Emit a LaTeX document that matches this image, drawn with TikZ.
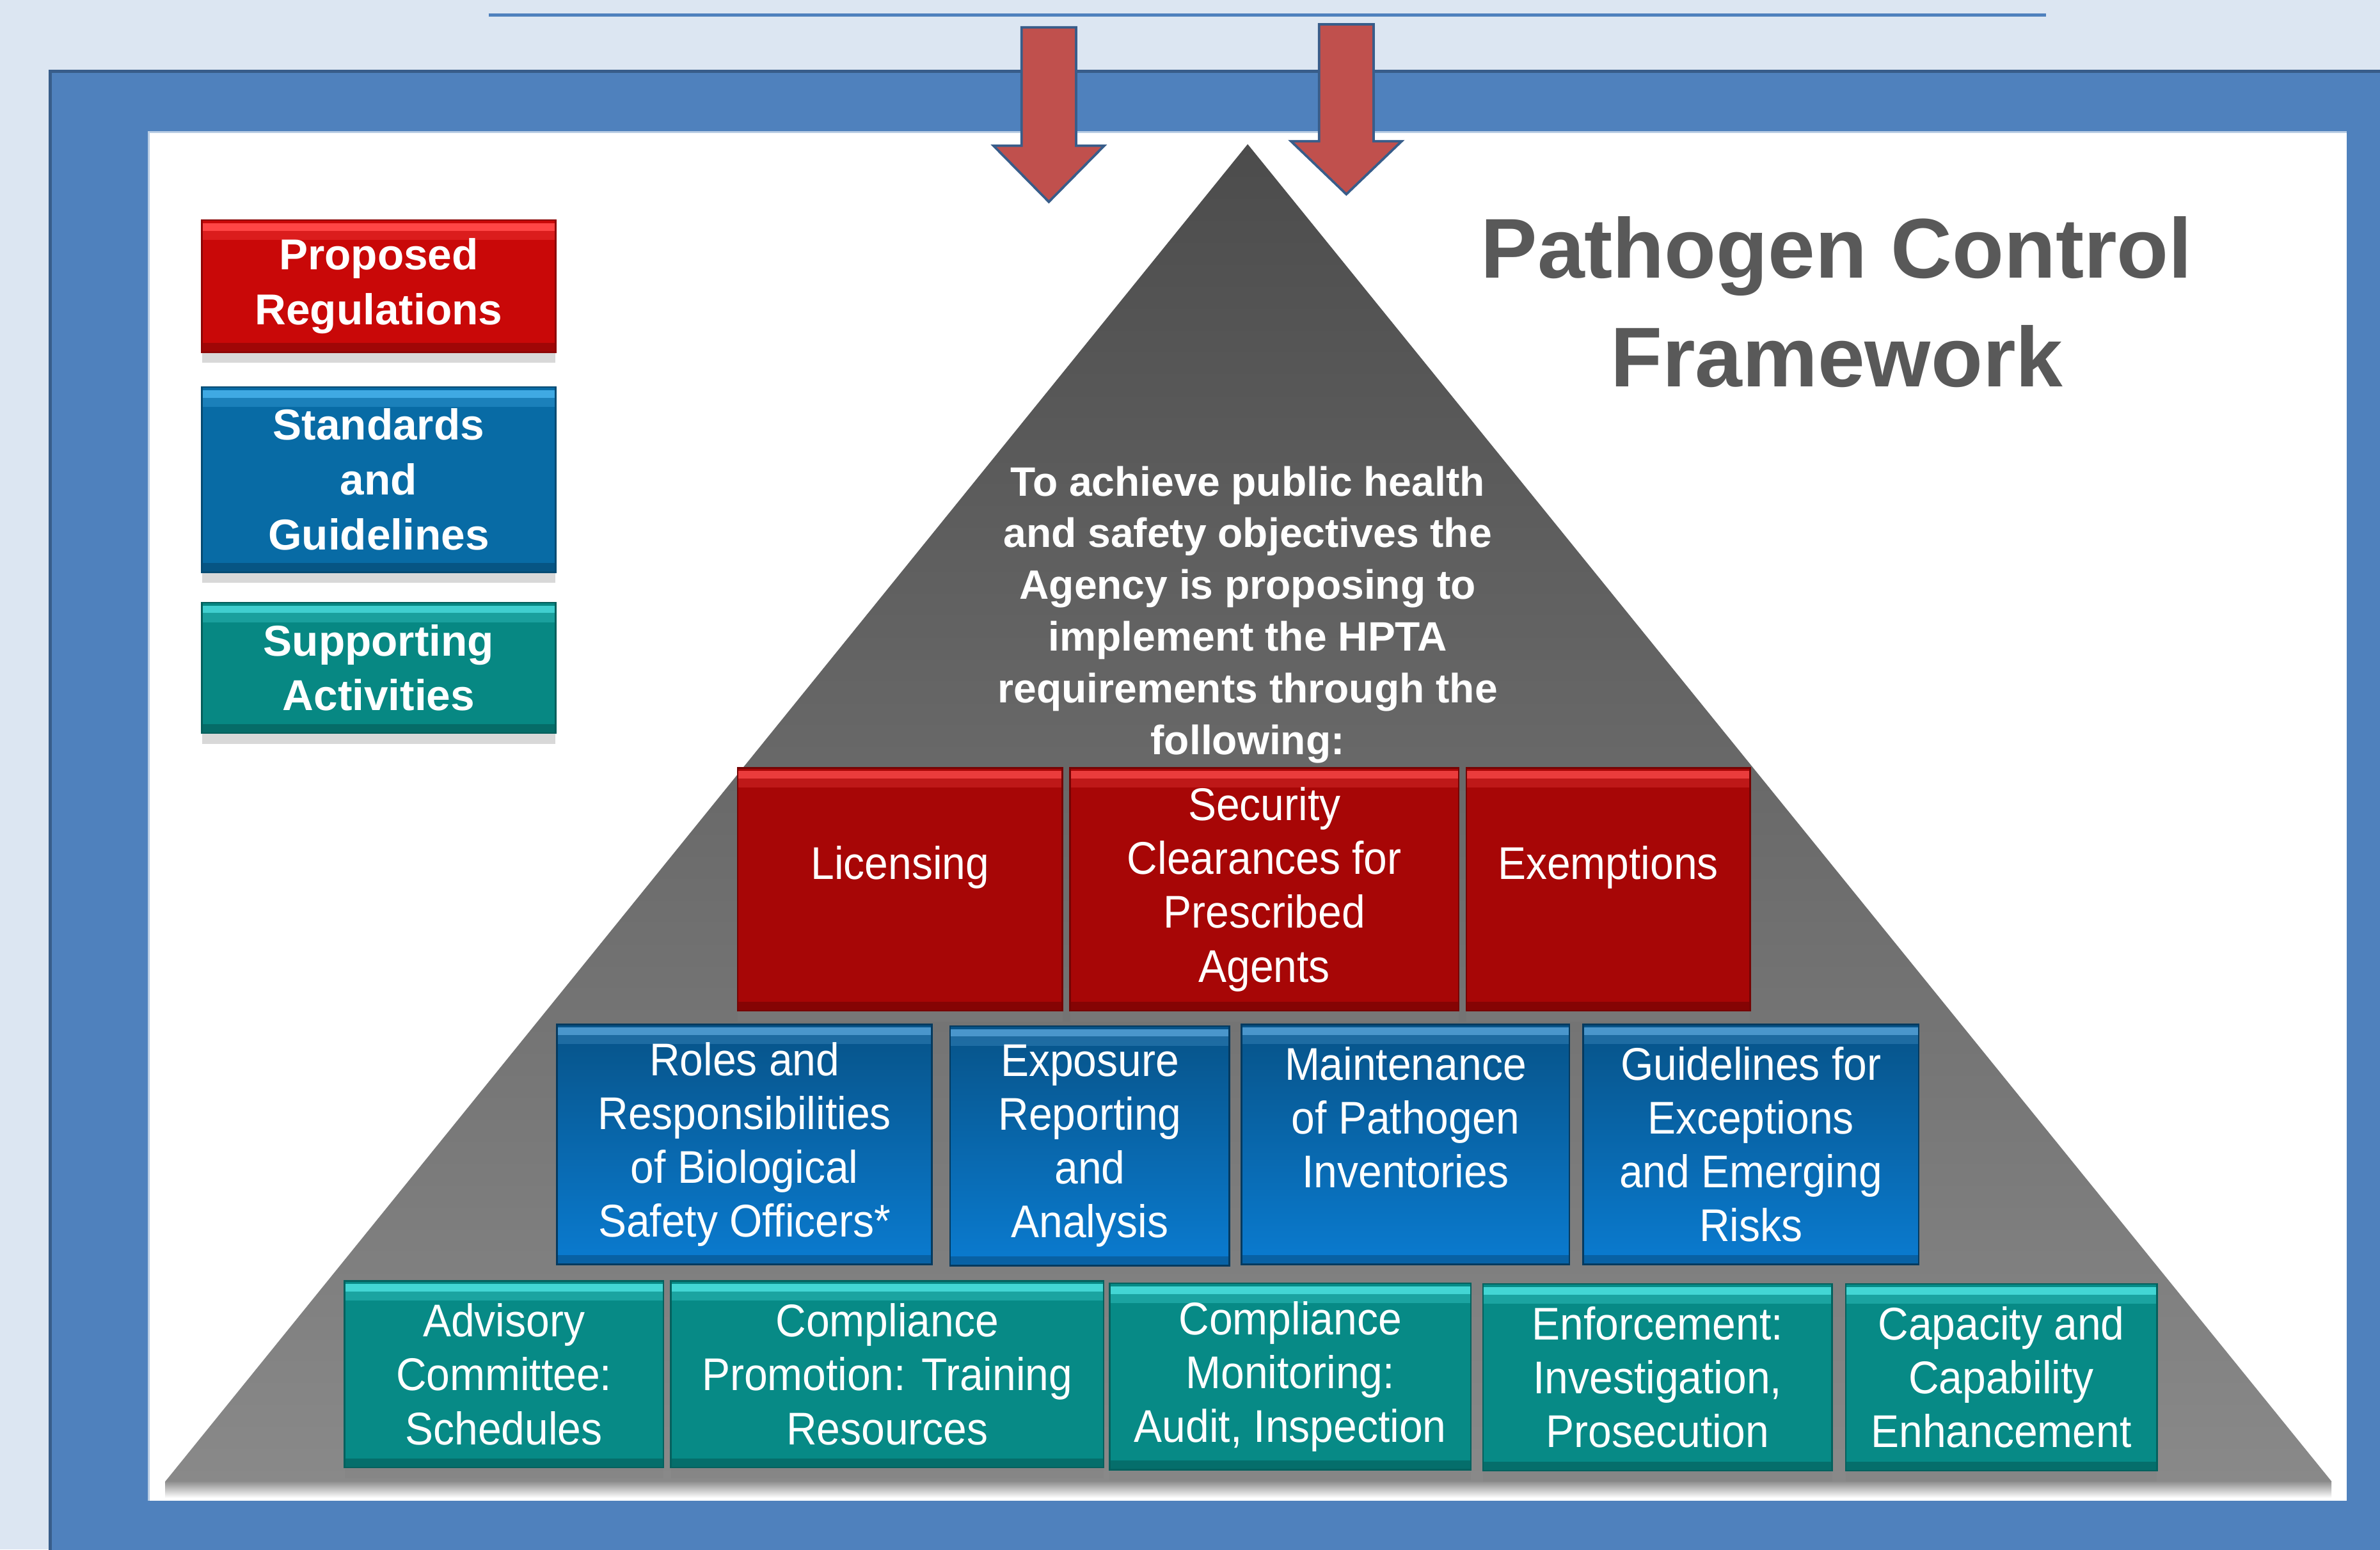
\documentclass[tikz,border=0pt]{standalone}
\usepackage{fontspec}
\setmainfont{Liberation Sans}
\newfontfamily\narrowfont[FakeStretch=0.92]{Liberation Sans}
\usepackage{xcolor}
\usetikzlibrary{shadows}
\definecolor{SkyBlue}{HTML}{DCE6F2}
\definecolor{FrameBlue}{HTML}{4F81BD}
\definecolor{FrameEdge}{HTML}{385D8A}
\definecolor{ArrowRed}{HTML}{C0504D}
\definecolor{TitleGray}{HTML}{595959}
\definecolor{PyrTop}{HTML}{4C4C4C}
\definecolor{PyrBottom}{HTML}{898989}
\definecolor{LegRed}{HTML}{C90808}
\definecolor{LegRedHi}{HTML}{FF4545}
\definecolor{LegBlue}{HTML}{086BA5}
\definecolor{LegBlueHi}{HTML}{3FA9E3}
\definecolor{LegTeal}{HTML}{078883}
\definecolor{LegTealHi}{HTML}{40CFCF}
\definecolor{RegRed}{HTML}{A70606}
\definecolor{RegRedHi}{HTML}{EA3C3C}
\definecolor{StdBlueTop}{HTML}{075388}
\definecolor{StdBlueBot}{HTML}{0A7BD0}
\definecolor{StdBlueHi}{HTML}{4A96CC}
\definecolor{SupTeal}{HTML}{078A86}
\definecolor{SupTealHi}{HTML}{43D6D4}
\newcommand\rowfont{\narrowfont\fontsize{8.6}{10.1}\selectfont}

\begin{document}
\begin{tikzpicture}[
    x=0.1mm, y=-0.1mm,
    tilebox/.style 2 args={fill=#1, draw=#1!70!black, line width=0.3pt,
      inner sep=0pt, outer sep=0pt, align=center, text=white,
      drop shadow={shadow xshift=0mm, shadow yshift=-0.7mm, opacity=0.3},
      path picture={
        \fill[#2] ([yshift=-0.2mm]path picture bounding box.north west)
          rectangle ([yshift=-0.7mm]path picture bounding box.north east);
        \fill[#2, opacity=0.35] ([yshift=-0.7mm]path picture bounding box.north west)
          rectangle ([yshift=-1.3mm]path picture bounding box.north east);
        \fill[black, opacity=0.2] ([yshift=0.6mm]path picture bounding box.south west)
          rectangle (path picture bounding box.south east);
      }},
    legend/.style 2 args={tilebox={#1}{#2}, minimum width=23.3mm,
      font=\bfseries\fontsize{8.1}{10.3}\selectfont},
    regrow/.style={tilebox={RegRed}{RegRedHi}, minimum height=16mm, font=\rowfont},
    stdrow/.style={tilebox={StdBlueTop}{StdBlueHi}, top color=StdBlueTop,
      bottom color=StdBlueBot, minimum height=15.8mm, font=\rowfont},
    suprow/.style={tilebox={SupTeal}{SupTealHi}, minimum height=12.3mm, font=\rowfont},
    blockarrow/.style={fill=ArrowRed, draw=FrameEdge, line width=0.45pt, line join=miter}
  ]
  % backdrop, frame and white panel
  \useasboundingbox[fill=SkyBlue] (0,0) rectangle (1568,1021);
  \draw[FrameBlue, line width=0.55pt] (322,10) -- (1348,10);
  \fill[FrameBlue] (33,47) rectangle (1580,1035);
  \draw[FrameEdge, line width=0.6pt] (33,1035) -- (33,47) -- (1580,47);
  \fill[white] (98,87) rectangle (1546,989);
  \draw[FrameBlue!40, line width=0.3pt] (98,989) -- (98,87) -- (1546,87);

  % pyramid
  \shade[top color=black!45, bottom color=white] (109,976) rectangle (1536,987);
  \shade[top color=PyrTop, bottom color=PyrBottom] (822,95) -- (1536,976) -- (109,976) -- cycle;

  % inputs from above
  \foreach \xc/\ya/\yb/\yc in {691/18/96/133, 887/16/93/128}
    \draw[blockarrow] (\xc-18,\ya) -- (\xc+18,\ya) -- (\xc+18,\yb) -- (\xc+36.5,\yb)
      -- (\xc,\yc) -- (\xc-36.5,\yb) -- (\xc-18,\yb) -- cycle;

  % key
  \node[legend={LegRed}{LegRedHi}, minimum height=8.7mm] (legreg) at (249.5,188.5) {Proposed\\Regulations};
  \node[legend={LegBlue}{LegBlueHi}, minimum height=12.2mm] (legstd) at (249.5,316) {Standards\\and\\Guidelines};
  \node[legend={LegTeal}{LegTealHi}, minimum height=8.6mm] (legsup) at (249.5,440) {Supporting\\Activities};

  \node[font=\bfseries\fontsize{15.9}{20.5}\selectfont, text=TitleGray, align=center] (title)
    at (1210,199) {Pathogen Control\\Framework};

  \node[font=\bfseries\fontsize{7.7}{9.7}\selectfont, text=white, align=center] (goal)
    at (822,405) {To achieve public health\\and safety objectives the\\Agency is proposing to\\implement the HPTA\\requirements through the\\following:};

  % regulations
  \node[regrow, minimum width=21.4mm] (lic) at (593,586) {Licensing\\\mbox{}};
  \node[regrow, minimum width=25.6mm] (sec) at (833,586) {Security\\Clearances for\\Prescribed\\Agents};
  \node[regrow, minimum width=18.7mm] (exm) at (1059.5,586) {Exemptions\\\mbox{}};

  % standards and guidelines
  \node[stdrow, minimum width=24.7mm] (roles) at (490.5,754) {Roles and\\Responsibilities\\of Biological\\Safety Officers*};
  \node[stdrow, minimum width=18.4mm] (expo) at (718,755) {Exposure\\Reporting\\and\\Analysis};
  \node[stdrow, minimum width=21.6mm] (maint) at (926,754) {Maintenance\\of Pathogen\\Inventories\\\mbox{}};
  \node[stdrow, minimum width=22.1mm] (guide) at (1153.5,754) {Guidelines for\\Exceptions\\and Emerging\\Risks};

  % supporting activities
  \node[suprow, minimum width=21mm] (advis) at (332,905.5) {Advisory\\Committee:\\Schedules};
  \node[suprow, minimum width=28.5mm] (promo) at (584.5,905.5) {Compliance\\Promotion: Training\\Resources};
  \node[suprow, minimum width=23.8mm] (monit) at (850,907) {Compliance\\Monitoring:\\Audit, Inspection};
  \node[suprow, minimum width=23mm] (enfor) at (1092,907.5) {Enforcement:\\Investigation,\\Prosecution};
  \node[suprow, minimum width=20.5mm] (capac) at (1318.5,907.5) {Capacity and\\Capability\\Enhancement};
\end{tikzpicture}
\end{document}
